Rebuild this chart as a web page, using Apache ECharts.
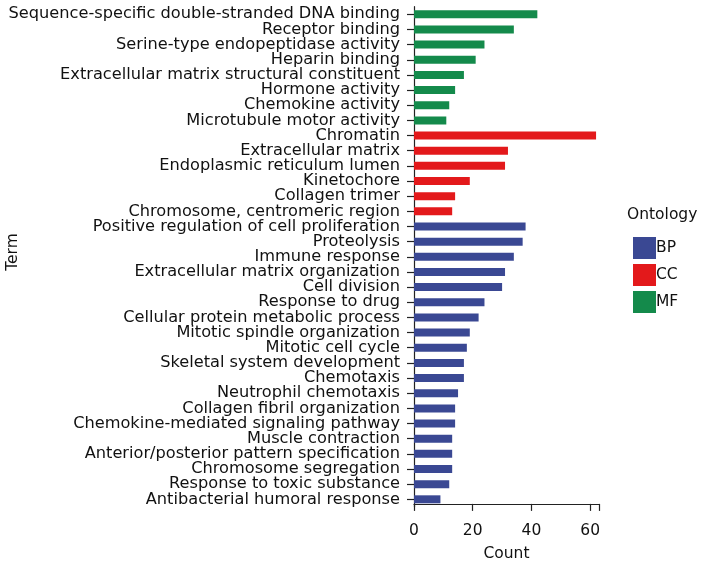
<!DOCTYPE html>
<html><head><meta charset="utf-8">
<script src="https://cdn.jsdelivr.net/npm/echarts@6/dist/echarts.min.js"></script>
<style>html,body{margin:0;padding:0;background:#fff}#c{width:720px;height:565px}</style>
</head><body><div id="c"></div>
<script>
const mfTerms = ["Sequence-specific double-stranded DNA binding","Receptor binding","Serine-type endopeptidase activity","Heparin binding","Extracellular matrix structural constituent","Hormone activity","Chemokine activity","Microtubule motor activity"];
const mfCounts = [42,34,24,21,17,14,12,11];
const ccTerms = ["Chromatin","Extracellular matrix","Endoplasmic reticulum lumen","Kinetochore","Collagen trimer","Chromosome, centromeric region"];
const ccCounts = [62,32,31,19,14,13];
const bpTerms = ["Positive regulation of cell proliferation","Proteolysis","Immune response","Extracellular matrix organization","Cell division","Response to drug","Cellular protein metabolic process","Mitotic spindle organization","Mitotic cell cycle","Skeletal system development","Chemotaxis","Neutrophil chemotaxis","Collagen fibril organization","Chemokine-mediated signaling pathway","Muscle contraction","Anterior/posterior pattern specification","Chromosome segregation","Response to toxic substance","Antibacterial humoral response"];
const bpCounts = [38,37,34,31,30,24,22,19,18,17,17,15,14,14,13,13,13,12,9];
const xTicks = [0,20,40,60];

const categories = mfTerms.concat(ccTerms, bpTerms);
function fill(terms, counts){
  return categories.map(c => { const i = terms.indexOf(c); return i >= 0 ? counts[i] : '-'; });
}
const FONT = '"DejaVu Sans", sans-serif';
const FS = 16.2;
const FS2 = 15.5;
const chart = echarts.init(document.getElementById('c'), null, {renderer:'canvas'});
chart.setOption({
  animation:false,
  backgroundColor:'#fff',
  textStyle:{fontFamily:FONT},
  grid:{left:414, right:121, top:6.7, height:500.2, containLabel:false, outerBoundsMode:'none'},
  xAxis:{type:'value', min:0, max:63, interval:20, offset:-3,
    name:'Count', nameLocation:'middle', nameGap:42,
    nameTextStyle:{fontSize:FS2, color:'#111', fontFamily:FONT},
    axisLine:{show:true, lineStyle:{color:'#222', width:1.2}},
    axisTick:{show:true, length:7, lineStyle:{color:'#222', width:1.2}},
    axisLabel:{fontSize:FS2, color:'#111', margin:19, fontFamily:FONT,
      formatter: v => xTicks.includes(v) ? String(v) : ''},
    splitLine:{show:false}},
  yAxis:{type:'category', data:categories, inverse:true,
    axisLine:{show:true, lineStyle:{color:'#222', width:1.2}},
    axisTick:{show:true, length:7, alignWithLabel:true, lineStyle:{color:'#222', width:1.2}},
    axisLabel:{fontSize:FS, color:'#111', margin:14, fontFamily:FONT, interval:0}},
  legend:{orient:'vertical', left:628, top:232, itemWidth:23, itemHeight:22, itemGap:5,
    data:['BP','CC','MF'], icon:'rect',
    textStyle:{fontSize:FS2, color:'#111', fontFamily:FONT, padding:[0,0,0,-5]}},
  graphic:[
    {type:'text', left:627, top:207, style:{text:'Ontology', font:FS2+'px '+FONT, fill:'#111'}},
    {type:'text', x:13, y:252, rotation:Math.PI/2, style:{text:'Term', font:FS2+'px '+FONT, fill:'#111', align:'center', verticalAlign:'middle'}}
  ],
  series:[
    {name:'BP', type:'bar', stack:'t', barWidth:8, data:fill(bpTerms,bpCounts), itemStyle:{color:'#3A4893'}},
    {name:'CC', type:'bar', stack:'t', barWidth:8, data:fill(ccTerms,ccCounts), itemStyle:{color:'#E3191B'}},
    {name:'MF', type:'bar', stack:'t', barWidth:8, data:fill(mfTerms,mfCounts), itemStyle:{color:'#148A4B'}}
  ]
});
</script></body></html>
